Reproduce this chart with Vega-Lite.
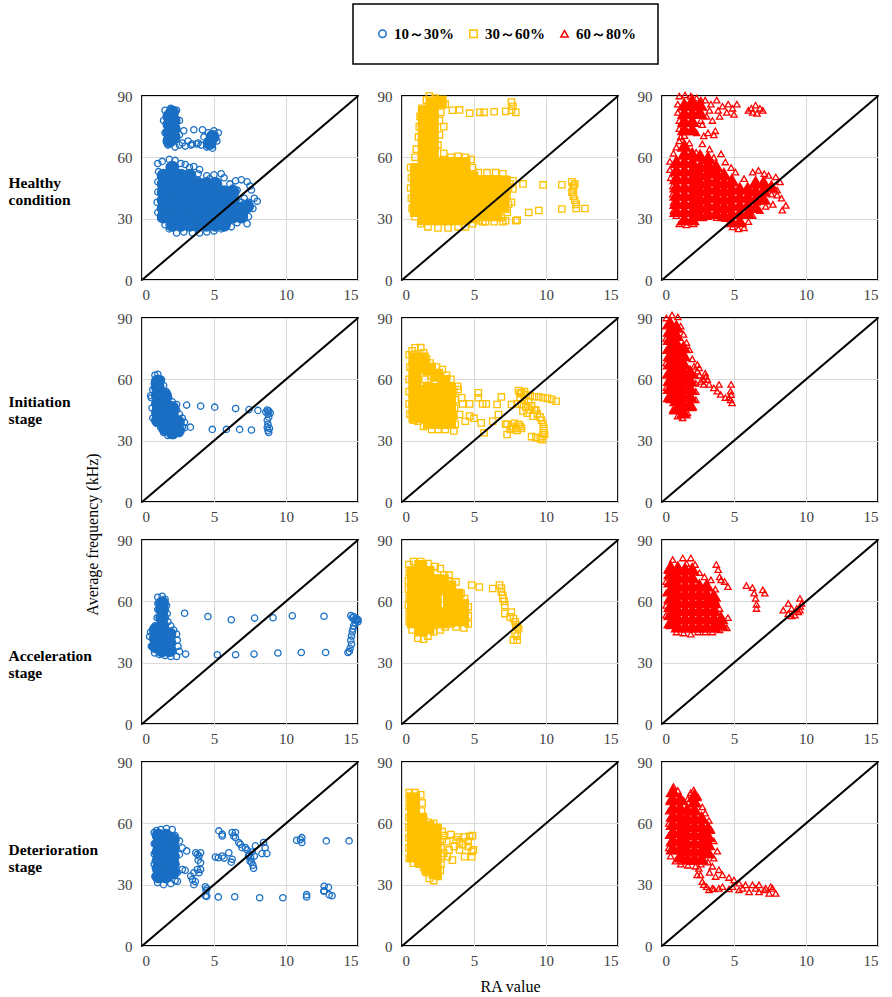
{
"$schema":"https://vega.github.io/schema/vega-lite/v6.json",
"padding":{"left":7,"top":3,"right":5,"bottom":5},
"config":{
"font":"Liberation Serif",
"view":{"stroke":"black","strokeWidth":1.8},
"axis":{"domain":false,"ticks":false,"grid":true,"gridColor":"#d9d9d9","gridWidth":1,"labelFont":"Liberation Serif","labelFontSize":15,"labelColor":"#404040","titleFont":"Liberation Serif","titleColor":"black"},
"axisX":{"labelPadding":7},
"axisY":{"labelPadding":10},
"range":{"category":["#1a6fc4","#ffc000","#ff0000"],"symbol":["circle","square","triangle-up"]},
"legend":{"padding":22,"strokeColor":"black","strokeWidth":1.5,"labelFont":"Liberation Serif","labelFontSize":15,"labelFontWeight":"bold","labelColor":"black","symbolSize":55,"symbolStrokeWidth":1.5,"columnPadding":12,"labelOffset":4}
},
"datasets":{
"q11":[{"x":1.5,"y":31},{"x":1.5,"y":35},{"x":1.5,"y":39},{"x":1.5,"y":43},{"x":1.5,"y":47},{"x":1.5,"y":51},{"x":2.1,"y":27},{"x":2.1,"y":31},{"x":2.1,"y":35},{"x":2.1,"y":39},{"x":2.1,"y":43},{"x":2.1,"y":47},{"x":2.1,"y":51},{"x":2.1,"y":55},{"x":2.7,"y":27},{"x":2.7,"y":31},{"x":2.7,"y":35},{"x":2.7,"y":39},{"x":2.7,"y":43},{"x":2.7,"y":47},{"x":2.7,"y":51},{"x":3.3,"y":27},{"x":3.3,"y":31},{"x":3.3,"y":35},{"x":3.3,"y":39},{"x":3.3,"y":43},{"x":3.3,"y":47},{"x":3.3,"y":51},{"x":3.9,"y":27},{"x":3.9,"y":31},{"x":3.9,"y":35},{"x":3.9,"y":39},{"x":3.9,"y":43},{"x":3.9,"y":47},{"x":4.5,"y":27},{"x":4.5,"y":31},{"x":4.5,"y":35},{"x":4.5,"y":39},{"x":4.5,"y":43},{"x":4.5,"y":47},{"x":5.1,"y":27},{"x":5.1,"y":31},{"x":5.1,"y":35},{"x":5.1,"y":39},{"x":5.1,"y":43},{"x":5.1,"y":47},{"x":5.7,"y":27},{"x":5.7,"y":31},{"x":5.7,"y":35},{"x":5.7,"y":39},{"x":5.7,"y":43},{"x":6.3,"y":31},{"x":6.3,"y":35},{"x":6.3,"y":39},{"x":6.3,"y":43},{"x":6.9,"y":31},{"x":6.9,"y":35},{"x":7.3,"y":36},{"x":1.9,"y":68},{"x":1.9,"y":72},{"x":1.9,"y":76},{"x":1.9,"y":80},{"x":2.2,"y":70},{"x":2.2,"y":74},{"x":2.2,"y":78},{"x":2.1,"y":82},{"x":4.7,"y":67},{"x":4.9,"y":70}],
"p11":[{"x":1.6,"y":83},{"x":2.0,"y":84},{"x":2.4,"y":83},{"x":1.5,"y":78},{"x":2.6,"y":78},{"x":1.6,"y":72},{"x":2.6,"y":71},{"x":1.8,"y":66},{"x":2.3,"y":65},{"x":2.9,"y":73},{"x":3.6,"y":73.5},{"x":4.2,"y":73.5},{"x":2.8,"y":67},{"x":3.2,"y":68},{"x":3.5,"y":66.5},{"x":3.9,"y":67},{"x":4.3,"y":70},{"x":4.5,"y":65},{"x":4.9,"y":64.5},{"x":5.0,"y":73},{"x":5.3,"y":72},{"x":5.2,"y":68},{"x":4.6,"y":72},{"x":4.8,"y":66},{"x":2.6,"y":66},{"x":3.0,"y":65.5},{"x":3.4,"y":66},{"x":3.8,"y":66.5},{"x":4.1,"y":66},{"x":1.1,"y":57},{"x":1.4,"y":58},{"x":1.9,"y":59},{"x":2.3,"y":58.5},{"x":3.0,"y":56.5},{"x":3.6,"y":55.5},{"x":4.0,"y":54},{"x":3.9,"y":52},{"x":4.5,"y":51},{"x":5.0,"y":51.5},{"x":5.5,"y":52},{"x":5.7,"y":50},{"x":6.1,"y":47},{"x":6.5,"y":48.5},{"x":6.9,"y":49},{"x":7.3,"y":48},{"x":7.6,"y":44},{"x":7.8,"y":40},{"x":8.0,"y":38.5},{"x":7.7,"y":35},{"x":7.4,"y":31},{"x":7.3,"y":27.5},{"x":7.0,"y":30},{"x":6.6,"y":28},{"x":6.2,"y":26},{"x":5.5,"y":25},{"x":5.0,"y":24},{"x":4.5,"y":23.5},{"x":4.0,"y":23},{"x":3.5,"y":23},{"x":2.9,"y":23.5},{"x":2.4,"y":23},{"x":1.9,"y":25},{"x":1.6,"y":27},{"x":1.3,"y":30},{"x":1.1,"y":33},{"x":1.05,"y":38},{"x":1.1,"y":43},{"x":1.1,"y":48},{"x":1.15,"y":53},{"x":6.6,"y":44},{"x":7.1,"y":40},{"x":6.9,"y":38},{"x":7.4,"y":38},{"x":6.6,"y":33},{"x":7.0,"y":34},{"x":2.7,"y":57},{"x":3.3,"y":55},{"x":6.3,"y":45},{"x":7.5,"y":46},{"x":4.7,"y":49.5}],
"q12":[{"x":1.0,"y":34},{"x":1.0,"y":38},{"x":1.0,"y":42},{"x":1.0,"y":46},{"x":1.0,"y":50},{"x":1.0,"y":54},{"x":1.55,"y":30},{"x":1.55,"y":34},{"x":1.55,"y":38},{"x":1.55,"y":42},{"x":1.55,"y":46},{"x":1.55,"y":50},{"x":1.55,"y":54},{"x":1.55,"y":58},{"x":1.55,"y":62},{"x":1.55,"y":66},{"x":1.55,"y":70},{"x":1.55,"y":74},{"x":1.55,"y":78},{"x":1.55,"y":82},{"x":2.1,"y":30},{"x":2.1,"y":34},{"x":2.1,"y":38},{"x":2.1,"y":42},{"x":2.1,"y":46},{"x":2.1,"y":50},{"x":2.1,"y":54},{"x":2.1,"y":58},{"x":2.1,"y":62},{"x":2.1,"y":66},{"x":2.1,"y":70},{"x":2.1,"y":74},{"x":2.1,"y":78},{"x":2.1,"y":82},{"x":2.1,"y":86},{"x":2.65,"y":30},{"x":2.65,"y":34},{"x":2.65,"y":38},{"x":2.65,"y":42},{"x":2.65,"y":46},{"x":2.65,"y":50},{"x":2.65,"y":54},{"x":2.65,"y":57},{"x":2.65,"y":87},{"x":3.2,"y":30},{"x":3.2,"y":34},{"x":3.2,"y":38},{"x":3.2,"y":42},{"x":3.2,"y":46},{"x":3.2,"y":50},{"x":3.2,"y":54},{"x":3.2,"y":57},{"x":3.75,"y":30},{"x":3.75,"y":34},{"x":3.75,"y":38},{"x":3.75,"y":42},{"x":3.75,"y":46},{"x":3.75,"y":50},{"x":3.75,"y":54},{"x":3.75,"y":57},{"x":4.3,"y":30},{"x":4.3,"y":34},{"x":4.3,"y":38},{"x":4.3,"y":42},{"x":4.3,"y":46},{"x":4.3,"y":50},{"x":4.3,"y":54},{"x":4.3,"y":57},{"x":4.85,"y":31},{"x":4.85,"y":34},{"x":4.85,"y":38},{"x":4.85,"y":42},{"x":4.85,"y":46},{"x":4.85,"y":50},{"x":5.4,"y":32},{"x":5.4,"y":36},{"x":5.4,"y":40},{"x":5.4,"y":44},{"x":5.4,"y":48},{"x":5.95,"y":32},{"x":5.95,"y":36},{"x":5.95,"y":40},{"x":5.95,"y":44},{"x":5.95,"y":48},{"x":6.5,"y":32},{"x":6.5,"y":36},{"x":6.5,"y":40},{"x":6.5,"y":44},{"x":6.5,"y":48},{"x":7.0,"y":36},{"x":7.0,"y":40},{"x":7.0,"y":44},{"x":7.0,"y":48}],
"p12":[{"x":0.6,"y":55},{"x":0.65,"y":50},{"x":0.6,"y":45},{"x":0.65,"y":40},{"x":0.7,"y":35},{"x":0.9,"y":31},{"x":1.3,"y":27.5},{"x":1.8,"y":26},{"x":2.5,"y":25.5},{"x":3.2,"y":25.5},{"x":3.9,"y":26},{"x":4.4,"y":26},{"x":4.9,"y":27.5},{"x":0.9,"y":60},{"x":1.0,"y":64},{"x":1.15,"y":70},{"x":1.2,"y":75},{"x":1.25,"y":80},{"x":1.4,"y":84},{"x":1.7,"y":88},{"x":1.9,"y":90},{"x":2.3,"y":89},{"x":2.8,"y":88},{"x":3.0,"y":86},{"x":2.7,"y":82},{"x":2.6,"y":78},{"x":2.9,"y":75},{"x":2.6,"y":71},{"x":2.5,"y":66},{"x":2.9,"y":62},{"x":3.4,"y":60},{"x":3.9,"y":60.5},{"x":4.4,"y":60},{"x":4.8,"y":59},{"x":4.9,"y":55},{"x":5.3,"y":52.5},{"x":5.9,"y":52.5},{"x":6.5,"y":52.5},{"x":7.0,"y":52},{"x":7.3,"y":49},{"x":7.4,"y":45},{"x":7.3,"y":41},{"x":7.4,"y":37},{"x":7.3,"y":33},{"x":6.9,"y":30.5},{"x":6.4,"y":28.5},{"x":5.8,"y":28.5},{"x":3.5,"y":83},{"x":4.0,"y":83.2},{"x":4.7,"y":81.6},{"x":5.4,"y":82},{"x":5.7,"y":82},{"x":6.4,"y":82.3},{"x":7.2,"y":82.5},{"x":7.6,"y":87},{"x":7.7,"y":85},{"x":7.6,"y":83},{"x":7.9,"y":82},{"x":8.4,"y":47},{"x":8.8,"y":33},{"x":9.5,"y":34},{"x":9.8,"y":46.5},{"x":11.1,"y":46.6},{"x":11.1,"y":34.7},{"x":11.8,"y":48},{"x":12.0,"y":47},{"x":11.9,"y":45},{"x":11.8,"y":43},{"x":11.9,"y":41},{"x":12.0,"y":39},{"x":12.1,"y":37},{"x":12.1,"y":35},{"x":12.7,"y":35},{"x":11.9,"y":46},{"x":5.3,"y":29},{"x":5.6,"y":28.5},{"x":7.0,"y":28.5},{"x":7.2,"y":29},{"x":7.9,"y":29},{"x":8.0,"y":29.3},{"x":7.6,"y":38},{"x":7.7,"y":44.5},{"x":7.7,"y":48.5},{"x":7.5,"y":47}],
"q13":[{"x":1.0,"y":34},{"x":1.0,"y":38},{"x":1.0,"y":42},{"x":1.0,"y":46},{"x":1.0,"y":50},{"x":1.0,"y":54},{"x":1.0,"y":58},{"x":1.55,"y":30},{"x":1.55,"y":34},{"x":1.55,"y":38},{"x":1.55,"y":42},{"x":1.55,"y":46},{"x":1.55,"y":50},{"x":1.55,"y":54},{"x":1.55,"y":58},{"x":1.55,"y":62},{"x":1.55,"y":66},{"x":1.55,"y":74},{"x":1.55,"y":78},{"x":1.55,"y":82},{"x":1.55,"y":86},{"x":2.1,"y":30},{"x":2.1,"y":34},{"x":2.1,"y":38},{"x":2.1,"y":42},{"x":2.1,"y":46},{"x":2.1,"y":50},{"x":2.1,"y":54},{"x":2.1,"y":58},{"x":2.1,"y":62},{"x":2.1,"y":74},{"x":2.1,"y":78},{"x":2.1,"y":82},{"x":2.1,"y":86},{"x":2.1,"y":88},{"x":2.65,"y":32},{"x":2.65,"y":36},{"x":2.65,"y":40},{"x":2.65,"y":44},{"x":2.65,"y":48},{"x":2.65,"y":52},{"x":2.65,"y":56},{"x":2.65,"y":61},{"x":2.65,"y":82},{"x":2.65,"y":86},{"x":3.2,"y":33},{"x":3.2,"y":37},{"x":3.2,"y":41},{"x":3.2,"y":45},{"x":3.2,"y":49},{"x":3.2,"y":53},{"x":3.2,"y":57},{"x":3.2,"y":60},{"x":3.75,"y":33},{"x":3.75,"y":37},{"x":3.75,"y":41},{"x":3.75,"y":45},{"x":3.75,"y":49},{"x":3.75,"y":53},{"x":3.75,"y":56},{"x":4.3,"y":32},{"x":4.3,"y":36},{"x":4.3,"y":40},{"x":4.3,"y":44},{"x":4.3,"y":48},{"x":4.3,"y":52},{"x":4.85,"y":29},{"x":4.85,"y":33},{"x":4.85,"y":37},{"x":4.85,"y":41},{"x":4.85,"y":45},{"x":4.85,"y":49},{"x":5.4,"y":29},{"x":5.4,"y":33},{"x":5.4,"y":37},{"x":5.4,"y":41},{"x":5.4,"y":45},{"x":5.95,"y":33},{"x":5.95,"y":37},{"x":5.95,"y":41},{"x":5.95,"y":45},{"x":6.5,"y":36},{"x":6.5,"y":40},{"x":6.5,"y":44},{"x":6.5,"y":48},{"x":7.05,"y":40},{"x":7.05,"y":44},{"x":7.05,"y":48},{"x":7.6,"y":46}],
"p13":[{"x":1.2,"y":90},{"x":1.6,"y":90.5},{"x":2.0,"y":90},{"x":2.4,"y":89},{"x":2.7,"y":88},{"x":1.1,"y":86},{"x":1.1,"y":82},{"x":1.2,"y":78},{"x":1.2,"y":74},{"x":1.3,"y":70},{"x":2.4,"y":72},{"x":2.7,"y":78},{"x":2.5,"y":82},{"x":3.0,"y":88},{"x":3.4,"y":86},{"x":3.8,"y":88},{"x":4.2,"y":85},{"x":4.5,"y":82},{"x":4.9,"y":84},{"x":5.2,"y":86},{"x":3.5,"y":78},{"x":3.7,"y":73},{"x":3.2,"y":72},{"x":2.8,"y":76},{"x":3.1,"y":80},{"x":4.0,"y":80},{"x":2.9,"y":70.5},{"x":3.6,"y":71},{"x":3.3,"y":83},{"x":3.9,"y":83},{"x":4.6,"y":86},{"x":5.0,"y":81},{"x":6.2,"y":84},{"x":6.5,"y":85.5},{"x":6.8,"y":84},{"x":7.0,"y":83},{"x":6.6,"y":81.5},{"x":6.3,"y":82},{"x":6.0,"y":83},{"x":0.55,"y":58},{"x":0.55,"y":54},{"x":0.6,"y":50},{"x":0.75,"y":46},{"x":0.75,"y":42},{"x":0.8,"y":38},{"x":0.8,"y":34},{"x":1.0,"y":31.5},{"x":1.2,"y":27.5},{"x":1.7,"y":27},{"x":2.2,"y":27.5},{"x":2.6,"y":30.5},{"x":3.2,"y":31},{"x":3.8,"y":30.5},{"x":4.4,"y":30},{"x":4.9,"y":26},{"x":5.3,"y":25},{"x":5.7,"y":25.5},{"x":6.0,"y":28.5},{"x":6.3,"y":31.5},{"x":1.2,"y":68},{"x":1.56,"y":70.6},{"x":1.9,"y":67},{"x":2.37,"y":62.5},{"x":2.8,"y":66.6},{"x":3.3,"y":64},{"x":3.6,"y":60},{"x":4.1,"y":61.7},{"x":4.4,"y":57.7},{"x":4.8,"y":55},{"x":5.1,"y":52.8},{"x":5.7,"y":49.6},{"x":6.3,"y":52.8},{"x":6.7,"y":53.6},{"x":7.1,"y":52},{"x":7.4,"y":51.2},{"x":7.9,"y":50.4},{"x":8.2,"y":48},{"x":8.0,"y":44},{"x":8.3,"y":40},{"x":8.6,"y":36.5},{"x":8.35,"y":34.2},{"x":8.0,"y":41.5},{"x":7.6,"y":42},{"x":7.2,"y":36},{"x":6.8,"y":34},{"x":6.6,"y":38},{"x":7.7,"y":37},{"x":0.8,"y":62},{"x":1.0,"y":65}],
"q21":[{"x":1.1,"y":40},{"x":1.1,"y":44},{"x":1.1,"y":48},{"x":1.1,"y":52},{"x":1.1,"y":56},{"x":1.1,"y":59},{"x":1.6,"y":36},{"x":1.6,"y":40},{"x":1.6,"y":44},{"x":1.6,"y":48},{"x":1.6,"y":52},{"x":2.1,"y":34},{"x":2.1,"y":38},{"x":2.1,"y":42},{"x":2.1,"y":46},{"x":2.5,"y":35},{"x":2.5,"y":39}],
"p21":[{"x":2.4,"y":47.7},{"x":3.1,"y":47.4},{"x":4.07,"y":46.9},{"x":5.05,"y":46.4},{"x":6.5,"y":45.7},{"x":7.43,"y":45.2},{"x":8.05,"y":44.8},{"x":3.36,"y":36.6},{"x":4.88,"y":35.5},{"x":5.86,"y":35.5},{"x":6.78,"y":35.5},{"x":7.6,"y":35.2},{"x":2.96,"y":36.3},{"x":8.8,"y":44.5},{"x":8.75,"y":43},{"x":8.8,"y":41.5},{"x":8.7,"y":40},{"x":8.75,"y":38},{"x":8.7,"y":36.5},{"x":8.75,"y":35},{"x":8.8,"y":34},{"x":8.9,"y":43.5},{"x":8.6,"y":44},{"x":8.85,"y":36},{"x":8.7,"y":45},{"x":0.9,"y":62},{"x":1.1,"y":62.5},{"x":1.35,"y":60},{"x":1.5,"y":57},{"x":1.7,"y":54},{"x":1.85,"y":51},{"x":2.1,"y":49},{"x":2.4,"y":45},{"x":2.6,"y":43},{"x":2.8,"y":41},{"x":2.95,"y":39},{"x":2.8,"y":36.5},{"x":2.6,"y":33.5},{"x":2.2,"y":32.5},{"x":1.8,"y":32.5},{"x":1.5,"y":34},{"x":1.3,"y":36.5},{"x":1.0,"y":38.5},{"x":0.75,"y":41},{"x":0.7,"y":46},{"x":0.65,"y":51},{"x":0.75,"y":55},{"x":0.85,"y":58},{"x":0.6,"y":52}],
"q22":[{"x":0.9,"y":42},{"x":0.9,"y":46},{"x":0.9,"y":50},{"x":0.9,"y":54},{"x":0.9,"y":58},{"x":0.9,"y":62},{"x":0.9,"y":66},{"x":0.9,"y":70},{"x":1.4,"y":42},{"x":1.4,"y":46},{"x":1.4,"y":50},{"x":1.4,"y":54},{"x":1.4,"y":66},{"x":1.4,"y":70},{"x":1.9,"y":39},{"x":1.9,"y":43},{"x":1.9,"y":47},{"x":1.9,"y":51},{"x":1.9,"y":55},{"x":1.9,"y":65},{"x":2.4,"y":39},{"x":2.4,"y":43},{"x":2.4,"y":47},{"x":2.4,"y":51},{"x":2.4,"y":55},{"x":2.4,"y":62},{"x":2.9,"y":39},{"x":2.9,"y":43},{"x":2.9,"y":47},{"x":2.9,"y":51},{"x":2.9,"y":55},{"x":2.9,"y":59},{"x":3.3,"y":39},{"x":3.3,"y":43},{"x":3.3,"y":47},{"x":3.3,"y":51},{"x":3.3,"y":55}],
"p22":[{"x":0.5,"y":72},{"x":0.55,"y":66},{"x":0.5,"y":60},{"x":0.5,"y":54},{"x":0.5,"y":48},{"x":0.55,"y":43},{"x":0.8,"y":40},{"x":1.1,"y":39.5},{"x":1.5,"y":37},{"x":2.06,"y":35.5},{"x":2.5,"y":35.5},{"x":3.0,"y":35.5},{"x":3.6,"y":34.7},{"x":3.7,"y":38},{"x":3.6,"y":42},{"x":3.65,"y":46},{"x":3.7,"y":50},{"x":3.6,"y":54},{"x":3.85,"y":56.6},{"x":3.9,"y":55},{"x":3.4,"y":60},{"x":3.1,"y":62},{"x":2.8,"y":64.8},{"x":2.4,"y":66},{"x":1.95,"y":68},{"x":1.7,"y":70},{"x":1.5,"y":73},{"x":1.3,"y":75.5},{"x":0.9,"y":75.4},{"x":0.7,"y":74},{"x":1.6,"y":60},{"x":2.0,"y":62},{"x":2.3,"y":58.5},{"x":1.8,"y":57},{"x":4.15,"y":51},{"x":4.2,"y":48},{"x":4.7,"y":48},{"x":4.0,"y":42.8},{"x":4.4,"y":39.5},{"x":4.7,"y":42},{"x":5.0,"y":41},{"x":5.3,"y":53.4},{"x":5.3,"y":51},{"x":5.6,"y":48},{"x":5.85,"y":48},{"x":5.5,"y":38.7},{"x":5.7,"y":33.9},{"x":6.3,"y":39.5},{"x":6.6,"y":47.7},{"x":6.9,"y":51.4},{"x":6.7,"y":42.8},{"x":7.2,"y":38},{"x":7.3,"y":33},{"x":7.6,"y":47.7},{"x":8.0,"y":48},{"x":7.3,"y":38},{"x":7.6,"y":37},{"x":7.9,"y":36},{"x":8.2,"y":37},{"x":7.5,"y":35.5},{"x":8.0,"y":35},{"x":8.3,"y":36},{"x":7.8,"y":38.5},{"x":7.7,"y":36},{"x":8.1,"y":38},{"x":8.1,"y":54.5},{"x":8.3,"y":53.5},{"x":8.6,"y":52.5},{"x":8.2,"y":51},{"x":8.5,"y":50},{"x":8.8,"y":49},{"x":8.3,"y":48},{"x":8.6,"y":46.5},{"x":8.9,"y":45},{"x":8.4,"y":44.5},{"x":8.7,"y":43.5},{"x":9.0,"y":47},{"x":8.9,"y":52},{"x":8.2,"y":53},{"x":8.5,"y":54},{"x":9.2,"y":51.5},{"x":9.5,"y":51.5},{"x":9.8,"y":51},{"x":10.1,"y":50.7},{"x":10.4,"y":50.2},{"x":10.7,"y":49.3},{"x":9.3,"y":45},{"x":9.4,"y":43},{"x":9.6,"y":41.5},{"x":9.7,"y":40},{"x":9.8,"y":38},{"x":9.85,"y":36},{"x":9.8,"y":34},{"x":9.75,"y":32},{"x":9.6,"y":31},{"x":9.3,"y":31.5},{"x":9.0,"y":32},{"x":9.9,"y":33},{"x":9.75,"y":30.5},{"x":9.1,"y":42},{"x":9.2,"y":45}],
"q23":[{"x":0.55,"y":52},{"x":0.55,"y":56},{"x":0.55,"y":60},{"x":0.55,"y":64},{"x":0.55,"y":68},{"x":0.55,"y":72},{"x":0.55,"y":76},{"x":0.55,"y":80},{"x":0.55,"y":84},{"x":0.55,"y":88},{"x":1.0,"y":46},{"x":1.0,"y":50},{"x":1.0,"y":54},{"x":1.0,"y":58},{"x":1.0,"y":62},{"x":1.0,"y":66},{"x":1.0,"y":70},{"x":1.0,"y":74},{"x":1.0,"y":78},{"x":1.0,"y":82},{"x":1.0,"y":86},{"x":1.5,"y":44},{"x":1.5,"y":48},{"x":1.5,"y":52},{"x":1.5,"y":56},{"x":1.5,"y":60},{"x":1.5,"y":64},{"x":1.5,"y":68},{"x":1.5,"y":72},{"x":1.5,"y":76},{"x":1.95,"y":48},{"x":1.95,"y":52},{"x":1.95,"y":56},{"x":1.95,"y":60},{"x":1.95,"y":64}],
"p23":[{"x":0.3,"y":90},{"x":0.7,"y":91.5},{"x":1.1,"y":90.5},{"x":1.3,"y":86},{"x":1.5,"y":82},{"x":1.7,"y":78},{"x":1.9,"y":74.5},{"x":2.1,"y":70},{"x":2.23,"y":66.4},{"x":2.3,"y":62},{"x":2.35,"y":58},{"x":2.35,"y":54},{"x":2.35,"y":50},{"x":2.1,"y":46},{"x":1.77,"y":43.6},{"x":1.43,"y":41.2},{"x":1.08,"y":42},{"x":0.74,"y":45},{"x":0.5,"y":50},{"x":0.3,"y":56},{"x":0.28,"y":62},{"x":0.28,"y":68},{"x":0.28,"y":74},{"x":0.28,"y":80},{"x":0.28,"y":86},{"x":2.46,"y":67.2},{"x":2.58,"y":65.6},{"x":2.46,"y":64},{"x":2.7,"y":59},{"x":3.04,"y":61.5},{"x":3.15,"y":60},{"x":3.27,"y":57.5},{"x":3.6,"y":55.8},{"x":3.96,"y":57.5},{"x":3.84,"y":54.2},{"x":4.07,"y":52.6},{"x":4.4,"y":51},{"x":4.76,"y":54.2},{"x":4.8,"y":57.5},{"x":4.76,"y":50},{"x":4.87,"y":48.5},{"x":4.65,"y":51},{"x":2.9,"y":60},{"x":2.9,"y":57.5},{"x":2.6,"y":62},{"x":3.0,"y":63},{"x":4.8,"y":52.5}],
"q31":[{"x":0.95,"y":38},{"x":0.95,"y":42},{"x":0.95,"y":46},{"x":1.4,"y":36},{"x":1.4,"y":40},{"x":1.4,"y":44},{"x":1.4,"y":48},{"x":1.4,"y":52},{"x":1.4,"y":56},{"x":1.4,"y":59},{"x":1.9,"y":36},{"x":1.9,"y":40},{"x":1.9,"y":44}],
"p31":[{"x":2.96,"y":54.2},{"x":4.58,"y":52.6},{"x":6.2,"y":51},{"x":7.82,"y":51.8},{"x":9.1,"y":52},{"x":10.44,"y":52.9},{"x":12.64,"y":52.7},{"x":3.03,"y":34.2},{"x":5.23,"y":33.9},{"x":6.5,"y":33.9},{"x":7.78,"y":34.2},{"x":9.44,"y":34.7},{"x":11.06,"y":35},{"x":12.75,"y":35},{"x":14.6,"y":52},{"x":14.75,"y":51},{"x":14.9,"y":50.5},{"x":15.0,"y":50},{"x":14.8,"y":49.5},{"x":14.7,"y":48},{"x":14.65,"y":46.5},{"x":14.6,"y":45},{"x":14.55,"y":43},{"x":14.5,"y":41},{"x":14.55,"y":39},{"x":14.45,"y":37},{"x":14.4,"y":35.5},{"x":14.3,"y":35},{"x":14.9,"y":51.5},{"x":14.5,"y":53},{"x":14.7,"y":52.5},{"x":15.0,"y":51},{"x":1.1,"y":62},{"x":1.4,"y":62.5},{"x":1.6,"y":61},{"x":1.7,"y":58},{"x":1.75,"y":54},{"x":1.8,"y":50},{"x":2.0,"y":48},{"x":2.2,"y":46},{"x":2.4,"y":44},{"x":2.45,"y":41},{"x":2.5,"y":38},{"x":2.6,"y":35.5},{"x":2.4,"y":33},{"x":2.0,"y":33},{"x":1.6,"y":33.5},{"x":1.2,"y":34},{"x":0.88,"y":34.7},{"x":0.65,"y":38},{"x":0.53,"y":42.8},{"x":0.6,"y":45},{"x":0.9,"y":48},{"x":1.05,"y":52},{"x":1.1,"y":56},{"x":1.1,"y":59}],
"q32":[{"x":0.8,"y":50},{"x":0.8,"y":54},{"x":0.8,"y":58},{"x":0.8,"y":62},{"x":0.8,"y":66},{"x":0.8,"y":70},{"x":0.8,"y":74},{"x":1.3,"y":46},{"x":1.3,"y":50},{"x":1.3,"y":54},{"x":1.3,"y":58},{"x":1.3,"y":62},{"x":1.3,"y":66},{"x":1.3,"y":70},{"x":1.3,"y":74},{"x":1.3,"y":77},{"x":1.8,"y":47},{"x":1.8,"y":50},{"x":1.8,"y":54},{"x":1.8,"y":58},{"x":1.8,"y":62},{"x":1.8,"y":66},{"x":1.8,"y":70},{"x":1.8,"y":74},{"x":2.3,"y":50},{"x":2.3,"y":54},{"x":2.3,"y":58},{"x":2.3,"y":62},{"x":2.3,"y":66},{"x":2.3,"y":70},{"x":2.8,"y":50},{"x":2.8,"y":54},{"x":2.8,"y":66},{"x":2.8,"y":70},{"x":3.3,"y":51},{"x":3.3,"y":55},{"x":3.3,"y":59},{"x":3.3,"y":63},{"x":3.3,"y":67},{"x":3.8,"y":51},{"x":3.8,"y":55},{"x":3.8,"y":59},{"x":3.8,"y":63},{"x":4.2,"y":51},{"x":4.2,"y":55},{"x":4.2,"y":58}],
"p32":[{"x":0.48,"y":78},{"x":0.5,"y":74},{"x":0.45,"y":70},{"x":0.45,"y":66},{"x":0.5,"y":62},{"x":0.45,"y":58},{"x":0.5,"y":54},{"x":0.5,"y":50},{"x":0.7,"y":46},{"x":1.1,"y":42},{"x":1.5,"y":41.5},{"x":1.8,"y":43},{"x":2.2,"y":45},{"x":2.66,"y":46},{"x":0.8,"y":79.5},{"x":1.3,"y":79.5},{"x":1.8,"y":78.5},{"x":2.3,"y":77},{"x":2.66,"y":76},{"x":3.27,"y":72.8},{"x":3.75,"y":69.5},{"x":4.1,"y":63.8},{"x":4.35,"y":61.4},{"x":4.6,"y":57.3},{"x":4.6,"y":53},{"x":4.6,"y":49},{"x":4.3,"y":47},{"x":3.75,"y":47.5},{"x":3.4,"y":49},{"x":3.0,"y":47.5},{"x":2.9,"y":73},{"x":3.2,"y":70},{"x":3.5,"y":67},{"x":4.84,"y":68},{"x":5.37,"y":67},{"x":6.3,"y":66.3},{"x":6.77,"y":68},{"x":6.9,"y":64.6},{"x":7.0,"y":61.4},{"x":7.14,"y":58},{"x":7.14,"y":54},{"x":7.5,"y":52.4},{"x":7.86,"y":50},{"x":8.0,"y":47.5},{"x":7.86,"y":44.2},{"x":8.0,"y":41},{"x":7.74,"y":41},{"x":8.1,"y":46.6},{"x":7.74,"y":51.5},{"x":7.6,"y":54.8},{"x":6.9,"y":66.5},{"x":7.0,"y":63},{"x":7.1,"y":60},{"x":8.0,"y":43},{"x":7.9,"y":48.5}],
"q33":[{"x":0.6,"y":50},{"x":0.6,"y":54},{"x":0.6,"y":58},{"x":0.6,"y":62},{"x":0.6,"y":66},{"x":0.6,"y":70},{"x":0.6,"y":74},{"x":0.6,"y":77},{"x":1.1,"y":48},{"x":1.1,"y":52},{"x":1.1,"y":56},{"x":1.1,"y":60},{"x":1.1,"y":64},{"x":1.1,"y":68},{"x":1.1,"y":72},{"x":1.1,"y":76},{"x":1.6,"y":48},{"x":1.6,"y":52},{"x":1.6,"y":56},{"x":1.6,"y":60},{"x":1.6,"y":64},{"x":1.6,"y":68},{"x":1.6,"y":72},{"x":1.6,"y":76},{"x":2.1,"y":48},{"x":2.1,"y":52},{"x":2.1,"y":56},{"x":2.1,"y":60},{"x":2.1,"y":64},{"x":2.1,"y":68},{"x":2.1,"y":72},{"x":2.1,"y":76},{"x":2.6,"y":48},{"x":2.6,"y":52},{"x":2.6,"y":56},{"x":2.6,"y":60},{"x":2.6,"y":64},{"x":2.6,"y":68},{"x":3.1,"y":48},{"x":3.1,"y":52},{"x":3.1,"y":56},{"x":3.1,"y":60},{"x":3.1,"y":64},{"x":3.1,"y":68},{"x":3.6,"y":48},{"x":3.6,"y":52},{"x":3.6,"y":56},{"x":3.6,"y":60},{"x":3.6,"y":63},{"x":4.1,"y":49},{"x":4.1,"y":52}],
"p33":[{"x":0.74,"y":80.4},{"x":1.44,"y":81.2},{"x":2.0,"y":81.2},{"x":2.3,"y":78},{"x":2.6,"y":74},{"x":2.95,"y":72},{"x":3.4,"y":70.5},{"x":3.7,"y":66},{"x":3.75,"y":60},{"x":4.0,"y":56.5},{"x":4.58,"y":52},{"x":4.5,"y":47},{"x":4.0,"y":46},{"x":3.5,"y":45},{"x":3.0,"y":45},{"x":2.5,"y":45},{"x":2.0,"y":44},{"x":1.5,"y":44.5},{"x":1.0,"y":45},{"x":0.5,"y":48},{"x":0.28,"y":53.2},{"x":0.28,"y":58},{"x":0.28,"y":64},{"x":0.28,"y":69.7},{"x":0.4,"y":75},{"x":1.1,"y":78},{"x":1.7,"y":78.5},{"x":3.77,"y":78},{"x":3.9,"y":75.5},{"x":4.0,"y":72},{"x":4.35,"y":69.7},{"x":4.58,"y":67.2},{"x":4.1,"y":70.5},{"x":5.86,"y":67.7},{"x":6.28,"y":66.7},{"x":6.4,"y":64},{"x":6.5,"y":61.4},{"x":6.56,"y":58.5},{"x":6.56,"y":56.5},{"x":7.0,"y":65.6},{"x":7.14,"y":64},{"x":8.42,"y":55.7},{"x":8.77,"y":59},{"x":9.0,"y":56.5},{"x":9.23,"y":53.2},{"x":9.47,"y":54.9},{"x":9.58,"y":61.4},{"x":9.7,"y":59},{"x":9.58,"y":55.7},{"x":8.77,"y":54},{"x":9.35,"y":56.5},{"x":9.0,"y":52.9},{"x":9.6,"y":57.5}],
"q41":[{"x":1.15,"y":34},{"x":1.15,"y":38},{"x":1.15,"y":42},{"x":1.15,"y":46},{"x":1.15,"y":50},{"x":1.15,"y":54},{"x":1.65,"y":34},{"x":1.65,"y":38},{"x":1.65,"y":42},{"x":1.65,"y":46},{"x":1.65,"y":50},{"x":1.65,"y":54},{"x":2.15,"y":36},{"x":2.15,"y":40},{"x":2.15,"y":44},{"x":2.15,"y":48},{"x":2.15,"y":52}],
"p41":[{"x":0.85,"y":55.5},{"x":0.85,"y":50},{"x":0.85,"y":45},{"x":0.85,"y":40},{"x":0.9,"y":34},{"x":1.08,"y":31},{"x":1.5,"y":30},{"x":2.0,"y":30.5},{"x":2.3,"y":32},{"x":2.46,"y":36},{"x":2.3,"y":40},{"x":2.6,"y":44.8},{"x":2.8,"y":48},{"x":2.6,"y":51.4},{"x":2.3,"y":54},{"x":2.1,"y":57},{"x":1.7,"y":57.5},{"x":1.3,"y":57},{"x":1.0,"y":56.5},{"x":2.46,"y":31.7},{"x":3.1,"y":46.5},{"x":2.8,"y":37.4},{"x":3.0,"y":37},{"x":3.73,"y":45.6},{"x":3.96,"y":44},{"x":4.07,"y":40.7},{"x":3.84,"y":37.4},{"x":3.6,"y":35.8},{"x":3.5,"y":32.5},{"x":3.6,"y":30},{"x":3.38,"y":34.2},{"x":4.07,"y":37.4},{"x":3.96,"y":35.8},{"x":4.07,"y":45.6},{"x":3.84,"y":44.8},{"x":3.7,"y":31.5},{"x":3.9,"y":42},{"x":4.4,"y":29},{"x":4.5,"y":28},{"x":4.45,"y":27},{"x":4.4,"y":24.5},{"x":5.1,"y":43.5},{"x":5.57,"y":44},{"x":5.7,"y":43},{"x":5.34,"y":56.3},{"x":5.57,"y":54.7},{"x":5.57,"y":53.8},{"x":6.03,"y":45.6},{"x":6.26,"y":42.4},{"x":6.26,"y":55.5},{"x":6.49,"y":55.5},{"x":6.37,"y":53.8},{"x":6.49,"y":53},{"x":6.72,"y":50.6},{"x":6.83,"y":49.8},{"x":6.95,"y":48.1},{"x":7.18,"y":48.1},{"x":5.3,"y":43.2},{"x":6.2,"y":41},{"x":7.3,"y":47},{"x":7.45,"y":45},{"x":7.55,"y":43},{"x":7.6,"y":41},{"x":7.7,"y":39.5},{"x":7.75,"y":38},{"x":7.4,"y":44},{"x":7.65,"y":46},{"x":7.8,"y":44},{"x":7.5,"y":41.5},{"x":7.87,"y":49},{"x":8.44,"y":50.6},{"x":8.55,"y":48.1},{"x":8.33,"y":45.2},{"x":8.67,"y":45.2},{"x":10.74,"y":51.7},{"x":11.1,"y":53},{"x":11.1,"y":50.6},{"x":12.8,"y":51.4},{"x":14.38,"y":51.4},{"x":11.0,"y":52},{"x":4.5,"y":24.3},{"x":5.3,"y":24},{"x":6.44,"y":24.1},{"x":8.17,"y":23.6},{"x":9.78,"y":23.6},{"x":11.43,"y":25.1},{"x":11.43,"y":24},{"x":12.65,"y":29.2},{"x":12.95,"y":28.7},{"x":12.65,"y":27},{"x":13.0,"y":25.1},{"x":13.2,"y":24.6},{"x":12.63,"y":26.8}],
"q42":[{"x":0.8,"y":44},{"x":0.8,"y":48},{"x":0.8,"y":52},{"x":0.8,"y":56},{"x":0.8,"y":60},{"x":0.8,"y":64},{"x":0.8,"y":68},{"x":0.8,"y":72},{"x":1.3,"y":42},{"x":1.3,"y":46},{"x":1.3,"y":50},{"x":1.3,"y":54},{"x":1.3,"y":58},{"x":1.3,"y":62},{"x":1.8,"y":38},{"x":1.8,"y":42},{"x":1.8,"y":46},{"x":1.8,"y":50},{"x":1.8,"y":54},{"x":1.8,"y":58},{"x":2.3,"y":36},{"x":2.3,"y":40},{"x":2.3,"y":44},{"x":2.3,"y":48},{"x":2.3,"y":52},{"x":2.3,"y":56}],
"p42":[{"x":0.5,"y":75},{"x":0.9,"y":75},{"x":1.3,"y":74},{"x":1.4,"y":70},{"x":1.35,"y":66},{"x":1.5,"y":62},{"x":1.8,"y":60.5},{"x":2.2,"y":60},{"x":2.5,"y":58},{"x":2.78,"y":56},{"x":2.8,"y":52},{"x":2.7,"y":48},{"x":2.78,"y":44},{"x":2.7,"y":40},{"x":2.66,"y":37},{"x":2.5,"y":34},{"x":2.2,"y":32},{"x":1.9,"y":33},{"x":1.7,"y":36},{"x":1.5,"y":38.5},{"x":1.2,"y":40},{"x":0.8,"y":40.5},{"x":0.5,"y":43},{"x":0.48,"y":48},{"x":0.48,"y":53},{"x":0.48,"y":58},{"x":0.48,"y":63},{"x":0.5,"y":68},{"x":0.5,"y":72},{"x":2.9,"y":54},{"x":3.4,"y":54.5},{"x":3.87,"y":53.3},{"x":4.35,"y":53.3},{"x":4.7,"y":53.6},{"x":4.6,"y":48.7},{"x":4.84,"y":46.2},{"x":4.84,"y":43.7},{"x":4.35,"y":43.7},{"x":3.99,"y":47},{"x":3.63,"y":48.7},{"x":3.27,"y":47},{"x":3.15,"y":43.7},{"x":2.9,"y":45.4},{"x":3.75,"y":52},{"x":4.23,"y":49.5},{"x":3.5,"y":42},{"x":4.6,"y":51.2},{"x":4.96,"y":47},{"x":4.9,"y":54},{"x":3.1,"y":51},{"x":4.0,"y":51}],
"q43":[{"x":0.75,"y":48},{"x":0.75,"y":52},{"x":0.75,"y":56},{"x":0.75,"y":60},{"x":0.75,"y":64},{"x":0.75,"y":68},{"x":0.75,"y":72},{"x":0.75,"y":76},{"x":1.25,"y":44},{"x":1.25,"y":48},{"x":1.25,"y":52},{"x":1.25,"y":56},{"x":1.25,"y":60},{"x":1.25,"y":64},{"x":1.25,"y":68},{"x":1.25,"y":72},{"x":1.75,"y":43},{"x":1.75,"y":47},{"x":1.75,"y":51},{"x":1.75,"y":55},{"x":1.75,"y":59},{"x":1.75,"y":63},{"x":1.75,"y":67},{"x":2.25,"y":43},{"x":2.25,"y":47},{"x":2.25,"y":51},{"x":2.25,"y":55},{"x":2.25,"y":59},{"x":2.25,"y":63},{"x":2.25,"y":67},{"x":2.25,"y":71},{"x":2.25,"y":74},{"x":2.75,"y":43},{"x":2.75,"y":47},{"x":2.75,"y":51},{"x":2.75,"y":55},{"x":2.75,"y":59},{"x":2.75,"y":63},{"x":3.2,"y":46},{"x":3.2,"y":50},{"x":3.2,"y":54},{"x":3.2,"y":58}],
"p43":[{"x":0.5,"y":71},{"x":0.8,"y":78},{"x":1.1,"y":76},{"x":1.3,"y":73},{"x":1.5,"y":71.3},{"x":1.8,"y":72},{"x":2.0,"y":75},{"x":2.2,"y":76.3},{"x":2.5,"y":73},{"x":2.8,"y":68},{"x":3.0,"y":65},{"x":3.26,"y":61.4},{"x":3.4,"y":57},{"x":3.6,"y":51.4},{"x":3.84,"y":46.4},{"x":3.6,"y":43},{"x":3.2,"y":41},{"x":2.7,"y":40},{"x":2.33,"y":39},{"x":1.8,"y":39.5},{"x":1.3,"y":40},{"x":0.93,"y":41.5},{"x":0.6,"y":44},{"x":0.47,"y":48},{"x":0.47,"y":54},{"x":0.47,"y":60},{"x":0.47,"y":66},{"x":2.44,"y":34.8},{"x":2.8,"y":31.5},{"x":3.26,"y":27.4},{"x":3.5,"y":28.2},{"x":3.72,"y":34},{"x":3.95,"y":37.3},{"x":4.2,"y":34.8},{"x":4.65,"y":33.5},{"x":5.0,"y":32.3},{"x":5.35,"y":30.7},{"x":5.8,"y":29.9},{"x":6.28,"y":29.9},{"x":6.74,"y":29.9},{"x":7.2,"y":28.2},{"x":7.67,"y":28.2},{"x":7.9,"y":25.7},{"x":7.44,"y":25.7},{"x":6.74,"y":26.5},{"x":6.05,"y":26.5},{"x":5.35,"y":27.4},{"x":4.65,"y":27.9},{"x":3.95,"y":28.2},{"x":3.6,"y":27.9},{"x":4.2,"y":29},{"x":4.9,"y":29},{"x":5.6,"y":28.2},{"x":6.5,"y":28.2},{"x":7.1,"y":27.4},{"x":7.55,"y":29.0},{"x":2.67,"y":34.8},{"x":2.56,"y":38},{"x":2.9,"y":30},{"x":3.1,"y":29},{"x":3.3,"y":36},{"x":3.5,"y":39}],
"diag":[{"x":0,"y":0},{"x":15,"y":90}]
},
"columns":3,
"bounds":"flush",
"spacing":{"row":38,"column":44},
"concat":[
{"width":216,"height":184,"encoding":{"x":{"field":"x","type":"quantitative","scale":{"domain":[0,15],"nice":false},"axis":{"values":[0,5,10,15],"title":null}},"y":{"field":"y","type":"quantitative","scale":{"domain":[0,90],"nice":false},"axis":{"values":[0,30,60,90],"title":["Healthy","condition"],"titleAngle":0,"titleAlign":"left","titleBaseline":"top","titleX":-134,"titleY":79,"titleFontWeight":"bold","titleFontSize":15.5,"titleLineHeight":17}}},
"layer":[{"data":{"name":"q11"},"mark":{"type":"point","filled":true,"size":190,"color":"#1a6fc4","shape":"circle","opacity":1}},{"data":{"name":"p11"},"mark":{"type":"point","filled":false,"size":40,"strokeWidth":1.3,"opacity":1},"encoding":{"color":{"datum":"10～30%","legend":{"title":null,"orient":"none","legendX":211,"legendY":-92,"direction":"horizontal"}},"shape":{"datum":"10～30%","legend":{"title":null,"orient":"none","legendX":211,"legendY":-92,"direction":"horizontal"}}}},{"data":{"name":"diag"},"mark":{"type":"line","color":"black","strokeWidth":2},"encoding":{}}]},
{"width":216,"height":184,"encoding":{"x":{"field":"x","type":"quantitative","scale":{"domain":[0,15],"nice":false},"axis":{"values":[0,5,10,15],"title":null}},"y":{"field":"y","type":"quantitative","scale":{"domain":[0,90],"nice":false},"axis":{"values":[0,30,60,90],"title":null}}},
"layer":[{"data":{"name":"q12"},"mark":{"type":"point","filled":true,"size":170,"color":"#ffc000","shape":"square","opacity":1}},{"data":{"name":"p12"},"mark":{"type":"point","filled":false,"size":40,"strokeWidth":1.3,"opacity":1},"encoding":{"color":{"datum":"30～60%"},"shape":{"datum":"30～60%"}}},{"data":{"name":"diag"},"mark":{"type":"line","color":"black","strokeWidth":2},"encoding":{}}]},
{"width":216,"height":184,"encoding":{"x":{"field":"x","type":"quantitative","scale":{"domain":[0,15],"nice":false},"axis":{"values":[0,5,10,15],"title":null}},"y":{"field":"y","type":"quantitative","scale":{"domain":[0,90],"nice":false},"axis":{"values":[0,30,60,90],"title":null}}},
"layer":[{"data":{"name":"q13"},"mark":{"type":"point","filled":true,"size":230,"color":"#ff0000","shape":"triangle-up","opacity":1}},{"data":{"name":"p13"},"mark":{"type":"point","filled":false,"size":40,"strokeWidth":1.3,"opacity":1},"encoding":{"color":{"datum":"60～80%"},"shape":{"datum":"60～80%"}}},{"data":{"name":"diag"},"mark":{"type":"line","color":"black","strokeWidth":2},"encoding":{}}]},
{"width":216,"height":184,"encoding":{"x":{"field":"x","type":"quantitative","scale":{"domain":[0,15],"nice":false},"axis":{"values":[0,5,10,15],"title":null}},"y":{"field":"y","type":"quantitative","scale":{"domain":[0,90],"nice":false},"axis":{"values":[0,30,60,90],"title":["Initiation","stage"],"titleAngle":0,"titleAlign":"left","titleBaseline":"top","titleX":-134,"titleY":76,"titleFontWeight":"bold","titleFontSize":15.5,"titleLineHeight":17}}},
"layer":[{"data":{"name":"q21"},"mark":{"type":"point","filled":true,"size":190,"color":"#1a6fc4","shape":"circle","opacity":1}},{"data":{"name":"p21"},"mark":{"type":"point","filled":false,"size":40,"strokeWidth":1.3,"opacity":1},"encoding":{"color":{"datum":"10～30%"},"shape":{"datum":"10～30%"}}},{"data":{"name":"diag"},"mark":{"type":"line","color":"black","strokeWidth":2},"encoding":{}}]},
{"width":216,"height":184,"encoding":{"x":{"field":"x","type":"quantitative","scale":{"domain":[0,15],"nice":false},"axis":{"values":[0,5,10,15],"title":null}},"y":{"field":"y","type":"quantitative","scale":{"domain":[0,90],"nice":false},"axis":{"values":[0,30,60,90],"title":null}}},
"layer":[{"data":{"name":"q22"},"mark":{"type":"point","filled":true,"size":170,"color":"#ffc000","shape":"square","opacity":1}},{"data":{"name":"p22"},"mark":{"type":"point","filled":false,"size":40,"strokeWidth":1.3,"opacity":1},"encoding":{"color":{"datum":"30～60%"},"shape":{"datum":"30～60%"}}},{"data":{"name":"diag"},"mark":{"type":"line","color":"black","strokeWidth":2},"encoding":{}}]},
{"width":216,"height":184,"encoding":{"x":{"field":"x","type":"quantitative","scale":{"domain":[0,15],"nice":false},"axis":{"values":[0,5,10,15],"title":null}},"y":{"field":"y","type":"quantitative","scale":{"domain":[0,90],"nice":false},"axis":{"values":[0,30,60,90],"title":null}}},
"layer":[{"data":{"name":"q23"},"mark":{"type":"point","filled":true,"size":230,"color":"#ff0000","shape":"triangle-up","opacity":1}},{"data":{"name":"p23"},"mark":{"type":"point","filled":false,"size":40,"strokeWidth":1.3,"opacity":1},"encoding":{"color":{"datum":"60～80%"},"shape":{"datum":"60～80%"}}},{"data":{"name":"diag"},"mark":{"type":"line","color":"black","strokeWidth":2},"encoding":{}}]},
{"width":216,"height":184,"encoding":{"x":{"field":"x","type":"quantitative","scale":{"domain":[0,15],"nice":false},"axis":{"values":[0,5,10,15],"title":"Average frequency (kHz)","titleAngle":270,"titleX":-50,"titleY":-190,"titleAlign":"center","titleBaseline":"middle","titleFontSize":16,"titleFontWeight":"normal"}},"y":{"field":"y","type":"quantitative","scale":{"domain":[0,90],"nice":false},"axis":{"values":[0,30,60,90],"title":["Acceleration","stage"],"titleAngle":0,"titleAlign":"left","titleBaseline":"top","titleX":-134,"titleY":108,"titleFontWeight":"bold","titleFontSize":15.5,"titleLineHeight":17}}},
"layer":[{"data":{"name":"q31"},"mark":{"type":"point","filled":true,"size":190,"color":"#1a6fc4","shape":"circle","opacity":1}},{"data":{"name":"p31"},"mark":{"type":"point","filled":false,"size":40,"strokeWidth":1.3,"opacity":1},"encoding":{"color":{"datum":"10～30%"},"shape":{"datum":"10～30%"}}},{"data":{"name":"diag"},"mark":{"type":"line","color":"black","strokeWidth":2},"encoding":{}}]},
{"width":216,"height":184,"encoding":{"x":{"field":"x","type":"quantitative","scale":{"domain":[0,15],"nice":false},"axis":{"values":[0,5,10,15],"title":null}},"y":{"field":"y","type":"quantitative","scale":{"domain":[0,90],"nice":false},"axis":{"values":[0,30,60,90],"title":null}}},
"layer":[{"data":{"name":"q32"},"mark":{"type":"point","filled":true,"size":170,"color":"#ffc000","shape":"square","opacity":1}},{"data":{"name":"p32"},"mark":{"type":"point","filled":false,"size":40,"strokeWidth":1.3,"opacity":1},"encoding":{"color":{"datum":"30～60%"},"shape":{"datum":"30～60%"}}},{"data":{"name":"diag"},"mark":{"type":"line","color":"black","strokeWidth":2},"encoding":{}}]},
{"width":216,"height":184,"encoding":{"x":{"field":"x","type":"quantitative","scale":{"domain":[0,15],"nice":false},"axis":{"values":[0,5,10,15],"title":null}},"y":{"field":"y","type":"quantitative","scale":{"domain":[0,90],"nice":false},"axis":{"values":[0,30,60,90],"title":null}}},
"layer":[{"data":{"name":"q33"},"mark":{"type":"point","filled":true,"size":230,"color":"#ff0000","shape":"triangle-up","opacity":1}},{"data":{"name":"p33"},"mark":{"type":"point","filled":false,"size":40,"strokeWidth":1.3,"opacity":1},"encoding":{"color":{"datum":"60～80%"},"shape":{"datum":"60～80%"}}},{"data":{"name":"diag"},"mark":{"type":"line","color":"black","strokeWidth":2},"encoding":{}}]},
{"width":216,"height":184,"encoding":{"x":{"field":"x","type":"quantitative","scale":{"domain":[0,15],"nice":false},"axis":{"values":[0,5,10,15],"title":null}},"y":{"field":"y","type":"quantitative","scale":{"domain":[0,90],"nice":false},"axis":{"values":[0,30,60,90],"title":["Deterioration","stage"],"titleAngle":0,"titleAlign":"left","titleBaseline":"top","titleX":-134,"titleY":80,"titleFontWeight":"bold","titleFontSize":15.5,"titleLineHeight":17}}},
"layer":[{"data":{"name":"q41"},"mark":{"type":"point","filled":true,"size":190,"color":"#1a6fc4","shape":"circle","opacity":1}},{"data":{"name":"p41"},"mark":{"type":"point","filled":false,"size":40,"strokeWidth":1.3,"opacity":1},"encoding":{"color":{"datum":"10～30%"},"shape":{"datum":"10～30%"}}},{"data":{"name":"diag"},"mark":{"type":"line","color":"black","strokeWidth":2},"encoding":{}}]},
{"width":216,"height":184,"encoding":{"x":{"field":"x","type":"quantitative","scale":{"domain":[0,15],"nice":false},"axis":{"values":[0,5,10,15],"title":"RA value","titleX":108,"titleY":40,"titleAlign":"center","titleBaseline":"middle","titleFontSize":16,"titleFontWeight":"normal"}},"y":{"field":"y","type":"quantitative","scale":{"domain":[0,90],"nice":false},"axis":{"values":[0,30,60,90],"title":null}}},
"layer":[{"data":{"name":"q42"},"mark":{"type":"point","filled":true,"size":170,"color":"#ffc000","shape":"square","opacity":1}},{"data":{"name":"p42"},"mark":{"type":"point","filled":false,"size":40,"strokeWidth":1.3,"opacity":1},"encoding":{"color":{"datum":"30～60%"},"shape":{"datum":"30～60%"}}},{"data":{"name":"diag"},"mark":{"type":"line","color":"black","strokeWidth":2},"encoding":{}}]},
{"width":216,"height":184,"encoding":{"x":{"field":"x","type":"quantitative","scale":{"domain":[0,15],"nice":false},"axis":{"values":[0,5,10,15],"title":null}},"y":{"field":"y","type":"quantitative","scale":{"domain":[0,90],"nice":false},"axis":{"values":[0,30,60,90],"title":null}}},
"layer":[{"data":{"name":"q43"},"mark":{"type":"point","filled":true,"size":230,"color":"#ff0000","shape":"triangle-up","opacity":1}},{"data":{"name":"p43"},"mark":{"type":"point","filled":false,"size":40,"strokeWidth":1.3,"opacity":1},"encoding":{"color":{"datum":"60～80%"},"shape":{"datum":"60～80%"}}},{"data":{"name":"diag"},"mark":{"type":"line","color":"black","strokeWidth":2},"encoding":{}}]}
]
}
